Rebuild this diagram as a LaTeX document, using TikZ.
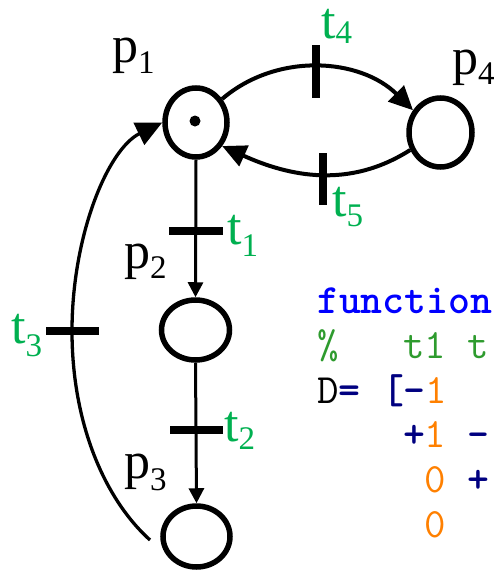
\documentclass[tikz,border=0pt]{standalone}
\usepackage{fontspec}
\setmainfont{Liberation Serif}
\usetikzlibrary{shapes.geometric,arrows.meta}
\definecolor{lblgreen}{HTML}{00B050}
\definecolor{kwblue}{HTML}{0000FF}
\definecolor{cmtgreen}{HTML}{2E9B2E}
\definecolor{opnavy}{HTML}{000080}
\definecolor{numorange}{HTML}{FF8000}
\newcommand{\lsub}[2]{\raisebox{-#1pt}{\fontsize{33}{33}\selectfont #2}}
\newcommand{\op}[1]{{\bfseries\color{opnavy}#1}}
\newcommand{\num}[1]{{\color{numorange}#1}}
\begin{document}
\begin{tikzpicture}[x=1pt,y=-1pt,
  place/.style={ellipse, draw, line width=5.5pt, inner sep=0pt},
  tokendot/.style={circle, fill=black, inner sep=0pt, minimum size=11pt},
  bar/.style={rectangle, fill=black, inner sep=0pt},
  arcarrow/.style={line width=4pt, -{Triangle[length=24pt,width=22pt]}},
  backarrow/.style={line width=3.3pt, -{Triangle[length=26pt,width=24pt]}},
  vline/.style={line width=3pt, -{Triangle[length=15pt,width=15pt]}},
  lbl/.style={anchor=base west, inner sep=0pt, font=\fontsize{52}{52}\selectfont},
  tlbl/.style={lbl, text=lblgreen},
  code/.style={anchor=base west, inner sep=0pt, font=\ttfamily\fontsize{41.7}{41.7}\selectfont},
]
\useasboundingbox (0,0) rectangle (497,573);

% places
\node[place, minimum width=62pt, minimum height=69pt] (p1) at (196,122.5) {};
\node[tokendot] (tok) at (195,121) {};
\node[place, minimum width=68pt, minimum height=60pt] (p2) at (195.5,330) {};
\node[place, minimum width=67pt, minimum height=61pt] (p3) at (196.5,536.5) {};
\node[place, minimum width=63pt, minimum height=69pt] (p4) at (440.5,132.5) {};

% transitions
\node[bar, minimum width=54pt, minimum height=8pt] (t1) at (195.5,231) {};
\node[bar, minimum width=53pt, minimum height=8pt] (t2) at (196,430) {};
\node[bar, minimum width=53pt, minimum height=8pt] (t3) at (72,331) {};
\node[bar, minimum width=8pt, minimum height=53pt] (t4) at (316,71.5) {};
\node[bar, minimum width=8pt, minimum height=52pt] (t5) at (322.5,179) {};

% arcs
\draw[vline] (p1.south) -- (p2.north);
\draw[vline] (p2.south) -- (p3.north);
\draw[arcarrow] (p1.42) .. controls (277,52) and (360,58) .. (p4.141);
\draw[arcarrow] (p4.210) .. controls (349,189) and (289.5,176.5) .. (p1.-42);
\coordinate (t3s) at (150,540);
\draw[backarrow] (t3s) .. controls (105.6,500) and (72,425) .. (t3.center)
   .. controls (72,235) and (108,149) .. (p1.west);

% labels
\node[lbl] (lp1) at (112,62) {p\lsub{11}{1}};
\node[lbl] (lp2) at (124,268) {p\lsub{10}{2}};
\node[lbl] (lp3) at (124,478) {p\lsub{12}{3}};
\node[lbl] (lp4) at (452,74) {p\lsub{10}{4}};
\node[tlbl] (lt1) at (227,244) {t\lsub{12}{1}};
\node[tlbl] (lt2) at (224,441) {t\lsub{8}{2}};
\node[tlbl] (lt3) at (11,343) {t\lsub{13}{3}};
\node[tlbl] (lt4) at (321,38) {t\lsub{5}{4}};
\node[tlbl] (lt5) at (332,216) {t\lsub{10}{5}};

% code
\node[code, text=kwblue, font=\ttfamily\bfseries\fontsize{41.7}{41.7}\selectfont] (c1) at (317,313) {function};
\node[code, text=cmtgreen] (c2) at (317,358) {\%\ \ \ t1\ t};
\node[code] (c3) at (317,403) {D\op{=}\ \op{[-}\num{1}};
\node[code] (c4) at (317,447) {\ \ \ \ \op{+}\num{1}\ \op{-}};
\node[code] (c5) at (317,492) {\ \ \ \ \ \num{0}\ \op{+}};
\node[code] (c6) at (317,537) {\ \ \ \ \ \num{0}};
\end{tikzpicture}
\end{document}
